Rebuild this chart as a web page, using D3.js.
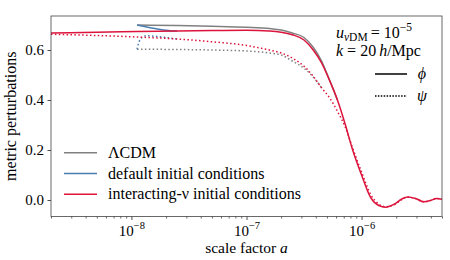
<!DOCTYPE html>
<html>
<head>
<meta charset="utf-8">
<script src="https://cdn.jsdelivr.net/npm/d3@7"></script>
<style>
  body { margin: 0; background: #fff; }
  text { font-family: "Liberation Serif", "DejaVu Serif", serif; fill: #000; }
</style>
</head>
<body>
<div id="graph"></div>
<script>
// interacting-nu initial conditions (red), phi and psi share the a grid
var aInt   = [2.0e-9, 5.0e-9, 1.12e-8, 2.5e-8, 5.0e-8, 1.0e-7, 1.58e-7, 2.0e-7, 2.5e-7, 3.16e-7, 3.8e-7, 4.47e-7, 5.25e-7, 6.17e-7, 7.24e-7, 8.3e-7, 1.0e-6, 1.2e-6, 1.41e-6, 1.62e-6, 1.9e-6, 2.24e-6, 2.5e-6, 2.95e-6, 3.47e-6, 3.98e-6, 4.47e-6, 5.0e-6];
var phiInt = [0.668, 0.671, 0.674, 0.676, 0.678, 0.679, 0.676, 0.671, 0.661, 0.640, 0.600, 0.550, 0.480, 0.400, 0.300, 0.205, 0.100, 0.010, -0.022, -0.029, -0.018, 0.004, 0.012, 0.006, -0.007, -0.002, 0.006, 0.003];
var psiInt = [0.663, 0.658, 0.652, 0.644, 0.633, 0.618, 0.600, 0.588, 0.568, 0.535, 0.495, 0.450, 0.410, 0.355, 0.290, 0.212, 0.112, 0.022, -0.016, -0.027, -0.020, 0.002, 0.012, 0.006, -0.007, -0.002, 0.006, 0.003];

// LambdaCDM (grey)
var aPhiLCDM = [1.12e-8, 2.5e-8, 5.0e-8, 1.0e-7, 1.58e-7, 2.0e-7, 2.5e-7, 3.16e-7, 3.8e-7, 4.47e-7, 5.25e-7, 6.17e-7];
var phiLCDM  = [0.700, 0.698, 0.695, 0.691, 0.686, 0.680, 0.668, 0.650, 0.611, 0.558, 0.482, 0.400];
var aPsiLCDM = [1.12e-8, 2.5e-8, 5.0e-8, 1.0e-7, 1.58e-7, 2.0e-7, 2.5e-7, 3.16e-7, 3.8e-7, 4.47e-7];
var psiLCDM  = [0.603, 0.602, 0.600, 0.596, 0.588, 0.580, 0.556, 0.527, 0.492, 0.450];

// default initial conditions (blue)
var aPhiDef = [1.12e-8, 1.3e-8, 1.6e-8, 2.0e-8, 2.5e-8];
var phiDef  = [0.700, 0.694, 0.686, 0.679, 0.676];
var aPsiDef = [1.12e-8, 1.17e-8, 1.25e-8, 1.35e-8, 1.6e-8, 2.0e-8, 2.5e-8];
var psiDef  = [0.603, 0.635, 0.652, 0.657, 0.655, 0.650, 0.644];

var majorTicks = [1e-8, 1e-7, 1e-6];
var majorExp = ["−8", "−7", "−6"];
var yTicks = [0.0, 0.2, 0.4, 0.6];
var legendNames = ["ΛCDM", "default initial conditions", "interacting-ν initial conditions"];
var colors = ["#808080", "#4a7db0", "#dc143c"];

var margin = {top: 16, right: 8, bottom: 43.5, left: 51},
    width = 450 - margin.left - margin.right,
    height = 260 - margin.top - margin.bottom;

var xScale = d3.scaleLog().domain([2e-9, 5e-6]).range([0, width]);
var yScale = d3.scaleLinear().domain([-0.066, 0.736]).range([height, 0]);

var svg = d3.select("#graph")
    .append("svg")
    .attr("width", 450)
    .attr("height", 260)
    .append("g")
    .attr("transform", "translate(" + margin.left + "," + margin.top + ")");

// clip so curves stay inside the frame
svg.append("clipPath").attr("id", "clip")
    .append("rect").attr("width", width).attr("height", height);

function plainAxis(g, w) {
    g.attr("font-family", null).attr("font-size", null);
    g.select(".domain").remove();
    g.selectAll("line").attr("stroke", "#222").attr("stroke-width", w);
}

// minor ticks
var minor = xScale.ticks().filter(function(d) { return majorTicks.indexOf(d) < 0; });
svg.append("g")
    .attr("transform", "translate(0," + height + ")")
    .call(d3.axisBottom(xScale).tickValues(minor).tickSize(2).tickFormat(""))
    .call(plainAxis, 0.7);

// major ticks
var xg = svg.append("g")
    .attr("transform", "translate(0," + height + ")")
    .call(d3.axisBottom(xScale).tickValues(majorTicks).tickSize(3.5).tickFormat(""))
    .call(plainAxis, 0.8);
xg.selectAll(".tick").each(function(d, i) {
    var t = d3.select(this).append("text")
        .attr("y", 19)
        .attr("text-anchor", "middle")
        .style("font-size", "15px");
    t.append("tspan").text("10");
    t.append("tspan").attr("dy", -7).style("font-size", "10.5px").text(majorExp[i]);
});

var yg = svg.append("g")
    .call(d3.axisLeft(yScale).tickValues(yTicks).tickSize(3.5).tickPadding(3.5).tickFormat(d3.format(".1f")))
    .call(plainAxis, 0.8);
yg.selectAll("text").style("font-size", "15px");

var line = d3.line()
    .x(function(d) { return xScale(d[0]); })
    .y(function(d) { return yScale(d[1]); })
    .curve(d3.curveMonotoneX);

function pairs(a, v) { return a.map(function(d, i) { return [d, v[i]]; }); }

var curves = [
    {data: pairs(aPhiLCDM, phiLCDM), c: colors[0], dot: false},
    {data: pairs(aPsiLCDM, psiLCDM), c: colors[0], dot: true},
    {data: pairs(aPhiDef, phiDef), c: colors[1], dot: false},
    {data: pairs(aPsiDef, psiDef), c: colors[1], dot: true},
    {data: pairs(aInt, phiInt), c: colors[2], dot: false},
    {data: pairs(aInt, psiInt), c: colors[2], dot: true}
];

svg.append("g").attr("clip-path", "url(#clip)")
    .selectAll("path")
    .data(curves)
    .enter()
    .append("path")
    .attr("d", function(d) { return line(d.data); })
    .attr("fill", "none")
    .attr("stroke", function(d) { return d.c; })
    .attr("stroke-width", 1.5)
    .attr("stroke-dasharray", function(d) { return d.dot ? "1.5,2.4" : null; });

// frame
svg.append("rect")
    .attr("width", width)
    .attr("height", height)
    .attr("fill", "none")
    .attr("stroke", "#444")
    .attr("stroke-width", 0.8);

// legend (lower left)
legendNames.forEach(function(name, i) {
    var ly = 136.7 + i * 20.8;
    svg.append("line")
        .attr("x1", 13).attr("x2", 46)
        .attr("y1", ly).attr("y2", ly)
        .attr("stroke", colors[i]).attr("stroke-width", 1.5);
    svg.append("text")
        .attr("x", 57).attr("y", ly + 5)
        .style("font-size", "16px")
        .text(name);
});

// annotation (upper right)
var t1 = svg.append("text").attr("x", 285).attr("y", 22).style("font-size", "16px");
t1.append("tspan").style("font-style", "italic").text("u");
t1.append("tspan").attr("dy", 3).style("font-size", "11.5px").style("font-style", "italic").text("ν");
t1.append("tspan").style("font-size", "11.5px").text("DM");
t1.append("tspan").attr("dy", -3).attr("dx", 3).text("=");
t1.append("tspan").attr("dx", 4).text("10");
t1.append("tspan").attr("dy", -7).style("font-size", "11.5px").text("−5");

var t2 = svg.append("text").attr("x", 285).attr("y", 39.5).style("font-size", "16px");
t2.append("tspan").style("font-style", "italic").text("k");
t2.append("tspan").attr("dx", 4).text("=");
t2.append("tspan").attr("dx", 4).text("20");
t2.append("tspan").attr("dx", 3).style("font-style", "italic").text("h");
t2.append("tspan").text("/Mpc");

[{y: 58, dot: false, s: "ϕ"}, {y: 80, dot: true, s: "ψ"}].forEach(function(d) {
    svg.append("line")
        .attr("x1", 324).attr("x2", 356)
        .attr("y1", d.y).attr("y2", d.y)
        .attr("stroke", "#000").attr("stroke-width", 1.5)
        .attr("stroke-dasharray", d.dot ? "1.5,1.4" : null);
    svg.append("text")
        .attr("x", 371).attr("y", d.y + 5)
        .attr("text-anchor", "middle")
        .style("font-size", "16px")
        .style("font-style", "italic")
        .text(d.s);
});

// axis labels
svg.append("text")
    .attr("x", width / 2).attr("y", 236.5)
    .attr("text-anchor", "middle")
    .style("font-size", "15.5px")
    .call(function(t) {
        t.append("tspan").text("scale factor ");
        t.append("tspan").style("font-style", "italic").text("a");
    });

svg.append("text")
    .attr("transform", "translate(-35," + (height / 2) + ") rotate(-90)")
    .attr("text-anchor", "middle")
    .style("font-size", "16px")
    .text("metric perturbations");
</script>
</body>
</html>
